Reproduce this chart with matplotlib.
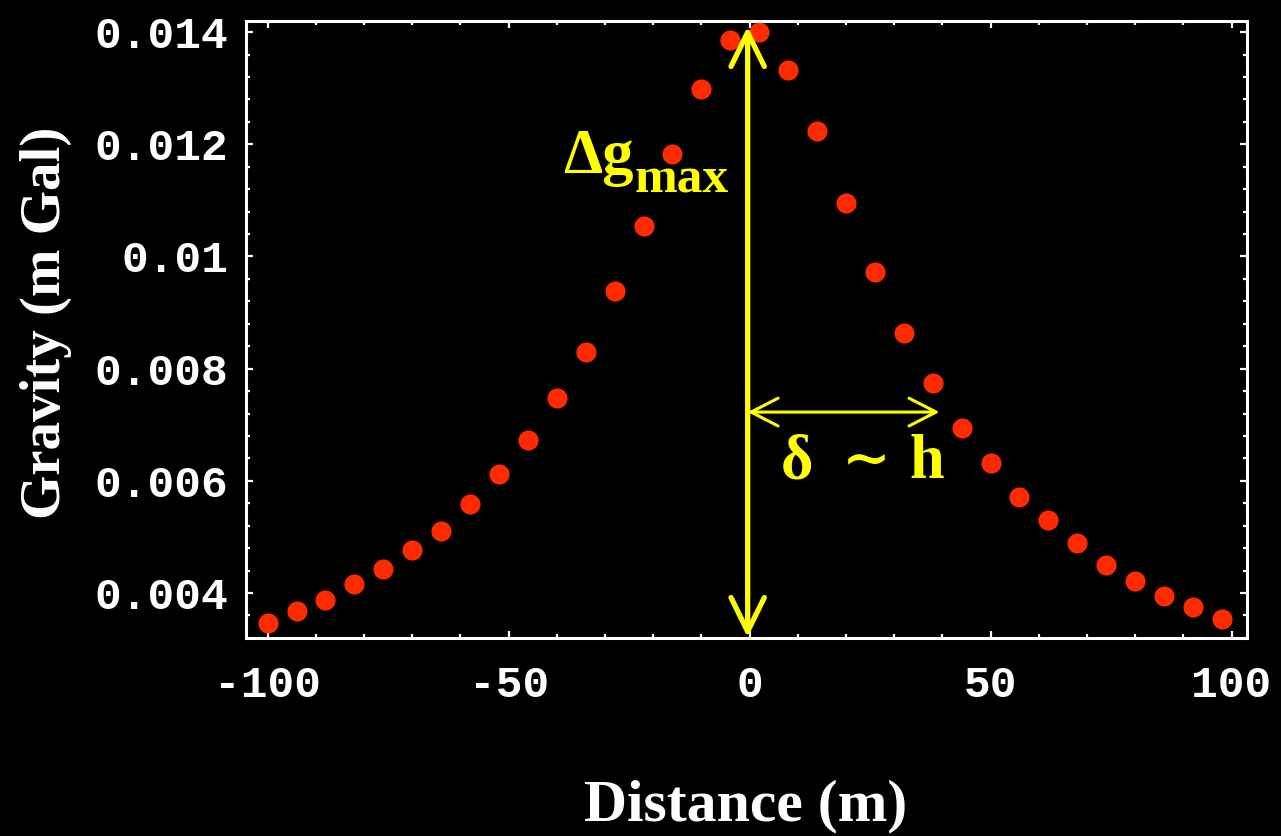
import matplotlib
matplotlib.use('Agg')
import matplotlib.pyplot as plt
from matplotlib.ticker import MultipleLocator

# distancia (m) y anomalia de gravedad (mGal)
distancia = [-100, -94, -88, -82, -76, -70, -64, -58, -52, -46, -40, -34,
             -28, -22, -16, -10, -4, 2, 8, 14, 20, 26, 32, 38, 44, 50,
             56, 62, 68, 74, 80, 86, 92, 98]
gravedad = [0.003465, 0.003679, 0.003875, 0.004160, 0.004428, 0.004766,
            0.005105, 0.005586, 0.006121, 0.006727, 0.007476, 0.008296,
            0.009383, 0.010542, 0.011825, 0.012984, 0.013857, 0.014000,
            0.013323, 0.012235, 0.010952, 0.009722, 0.008635, 0.007743,
            0.006941, 0.006317, 0.005711, 0.005301, 0.004891, 0.004499,
            0.004214, 0.003947, 0.003750, 0.003537]

xticks = [-100, -50, 0, 50, 100]
xtick_labels = ['-100', '-50', '0', '50', '100']
yticks = [0.004, 0.006, 0.008, 0.010, 0.012, 0.014]
ytick_labels = ['0.004', '0.006', '0.008', '0.01', '0.012', '0.014']

amarillo = '#ffff00'
rojo = '#ff2a00'
serif = 'Liberation Serif'
mono = 'Liberation Mono'

fig = plt.figure(figsize=(12.81, 8.36), dpi=100, facecolor='black')
ax = fig.add_axes([0.1924, 0.2374, 0.7810, 0.7380], facecolor='black')

ax.plot(distancia, gravedad, 'o', color=rojo, markersize=14.5, markeredgewidth=0)

ax.set_xlim(-104.4, 103.2)
ax.set_ylim(0.003207, 0.014205)

# flechas
x_flecha = -0.4
ax.annotate('', xy=(x_flecha, 0.01410), xytext=(x_flecha, 0.003207),
            arrowprops=dict(arrowstyle='<->,head_length=2.45,head_width=1.2',
                            mutation_scale=10, color=amarillo, lw=3.8,
                            capstyle='round', shrinkA=0, shrinkB=0))
ax.annotate('', xy=(39.4, 0.007226), xytext=(x_flecha, 0.007226),
            arrowprops=dict(arrowstyle='<->,head_length=1.95,head_width=1.0',
                            mutation_scale=10, color=amarillo, lw=2.2,
                            shrinkA=0, shrinkB=0))

ax.text(-38.6, 0.011487, 'Δg', color=amarillo, fontsize=45, fontweight='bold',
        family=serif, ha='left', va='baseline')
ax.text(-23.9, 0.011148, 'max', color=amarillo, fontsize=37, fontweight='bold',
        family=serif, ha='left', va='baseline')
ax.text(6.5, 0.00605, 'δ', color=amarillo, fontsize=45, fontweight='bold',
        family=serif, ha='left', va='baseline')
ax.text(19.2, 0.00605, '∼', color=amarillo, fontsize=42, fontweight='bold',
        family=['DejaVu Serif', serif], ha='left', va='baseline')
ax.text(33.2, 0.00605, 'h', color=amarillo, fontsize=45, fontweight='bold',
        family=serif, ha='left', va='baseline')

for s in ax.spines.values():
    s.set_color('white')
    s.set_linewidth(2.2)

ax.set_xticks(xticks)
ax.set_xticklabels(xtick_labels)
ax.set_yticks(yticks)
ax.set_yticklabels(ytick_labels)
ax.xaxis.set_minor_locator(MultipleLocator(10))
ax.yaxis.set_minor_locator(MultipleLocator(0.0004))
ax.tick_params(which='both', direction='in', top=True, right=True,
               color='white', width=1.6, labelcolor='white')
ax.tick_params(which='major', length=5)
ax.tick_params(which='minor', length=3)
ax.tick_params(axis='x', pad=20)
ax.tick_params(axis='y', pad=13)
for lab in ax.get_xticklabels() + ax.get_yticklabels():
    lab.set_family(mono)
    lab.set_fontweight('bold')
    lab.set_fontsize(32)

fig.text(746 / 1281, 1 - 806 / 836, 'Distance (m)', color='white', fontsize=43,
         fontweight='bold', family=serif, ha='center', va='center')
fig.text(46 / 1281, 1 - 323 / 836, 'Gravity (m Gal)', color='white', fontsize=41,
         fontweight='bold', family=serif, ha='center', va='center', rotation=90)

fig.savefig('out.png', dpi=100, facecolor='black')
